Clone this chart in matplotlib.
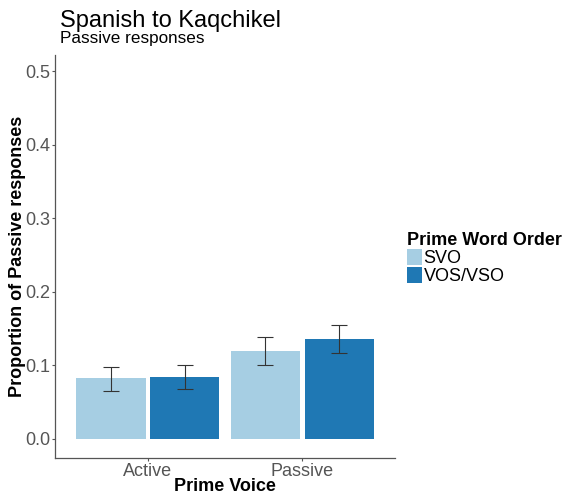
import matplotlib
matplotlib.use("Agg")
import matplotlib.pyplot as plt
import numpy as np

plt.rcParams['font.family'] = ['Liberation Sans', 'DejaVu Sans']

voices = ["Active", "Passive"]
orders = ["SVO", "VOS/VSO"]
colors = ["#a6cee3", "#1f78b4"]
means = {"SVO": [0.082, 0.120], "VOS/VSO": [0.084, 0.136]}
lower = {"SVO": [0.065, 0.101], "VOS/VSO": [0.068, 0.116]}
upper = {"SVO": [0.098, 0.139], "VOS/VSO": [0.101, 0.155]}

fig = plt.figure(figsize=(5.62, 4.94), dpi=100)
ax = fig.add_axes([0.098, 0.073, 0.605, 0.816])

x = np.arange(1, len(voices) + 1)
dodge = 0.477
width = 0.448
for i, order in enumerate(orders):
    pos = x + (i - 0.5) * dodge
    m = np.array(means[order])
    lo = m - np.array(lower[order])
    hi = np.array(upper[order]) - m
    ax.bar(pos, m, width=width, color=colors[i], linewidth=0,
           label=order, zorder=2)
    ax.errorbar(pos, m, yerr=[lo, hi], fmt="none", ecolor="#333333",
                elinewidth=0.8, capsize=5.5, capthick=0.8, zorder=3)

ax.set_xlim(0.4, 2.6)
ax.set_ylim(-0.026, 0.522)
ax.set_xticks(x)
ax.set_xticklabels(voices)
ax.set_yticks([0.0, 0.1, 0.2, 0.3, 0.4, 0.5])
ax.set_yticklabels(["0.0", "0.1", "0.2", "0.3", "0.4", "0.5"])
ax.tick_params(axis="both", colors="#555555", labelsize=13, length=2.5,
               width=0.8, pad=1)
for s in ["top", "right"]:
    ax.spines[s].set_visible(False)
for s in ["left", "bottom"]:
    ax.spines[s].set_color("#555555")
    ax.spines[s].set_linewidth(0.9)

ax.set_xlabel("Prime Voice", fontsize=13, fontweight="bold", labelpad=-1)
ax.set_ylabel("Proportion of Passive responses", fontsize=13,
              fontweight="bold", labelpad=-1)

fig.text(0.106, 0.946, "Spanish to Kaqchikel", fontsize=17, va="baseline")
fig.text(0.106, 0.913, "Passive responses", fontsize=12.3, va="baseline")

handles, labels = ax.get_legend_handles_labels()
leg = fig.legend(handles, labels, title="Prime Word Order",
                 loc="upper left", bbox_to_anchor=(0.724, 0.53),
                 frameon=False, fontsize=13,
                 title_fontproperties={"weight": "bold", "size": 13},
                 handlelength=0.82, handleheight=0.95, handletextpad=0.1,
                 labelspacing=0.0, borderpad=0, borderaxespad=0,
                 alignment="left")

fig.savefig("out.png", dpi=100)
